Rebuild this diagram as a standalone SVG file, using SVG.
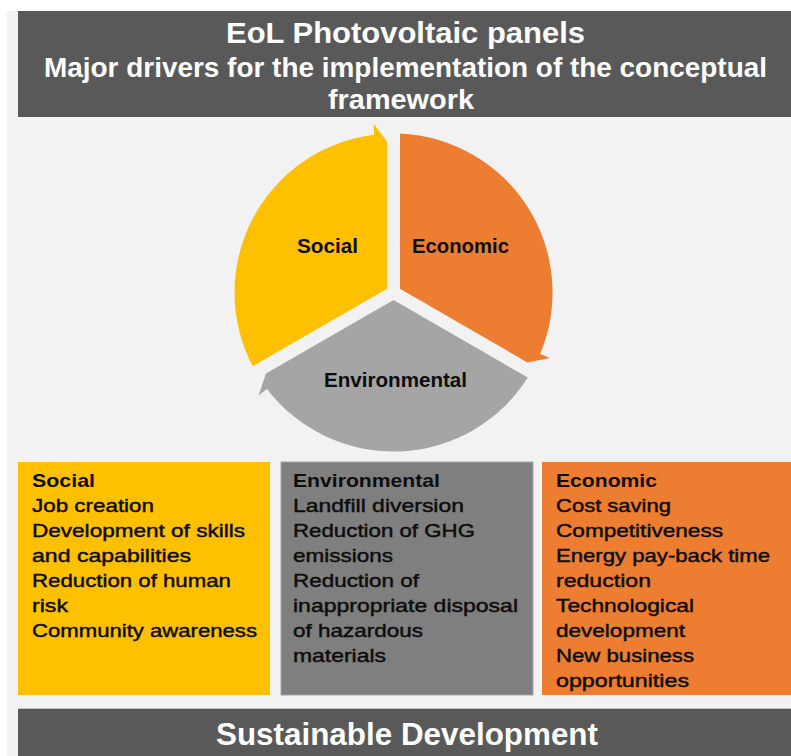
<svg xmlns="http://www.w3.org/2000/svg" width="791" height="756" viewBox="0 0 791 756">
<style>
.hdr{fill:#595959}
.ht{font-family:"Liberation Sans",Arial,sans-serif;font-weight:bold;fill:#ffffff;text-anchor:middle}
.lbl{font-family:"Liberation Sans",Arial,sans-serif;font-weight:bold;font-size:20px;fill:#0d0d0d;text-anchor:middle}
.bt{font-family:"Liberation Sans",Arial,sans-serif;font-size:19px;fill:#0d0d0d;stroke:#0d0d0d;stroke-width:0.45}
.bh{font-family:"Liberation Sans",Arial,sans-serif;font-size:19px;font-weight:bold;fill:#0d0d0d}
</style>
<rect x="0" y="0" width="791" height="756" fill="#ffffff"/>
<rect x="7" y="11" width="784" height="745" fill="#f2f2f2"/>
<g id="header">
<rect class="hdr" x="18" y="11" width="773" height="106"/>
<text class="ht" x="405.5" y="43" font-size="30" textLength="359" lengthAdjust="spacingAndGlyphs">EoL Photovoltaic panels</text>
<text class="ht" x="405.5" y="77" font-size="28" textLength="723" lengthAdjust="spacingAndGlyphs">Major drivers for the implementation of the conceptual</text>
<text class="ht" x="401" y="109" font-size="28" textLength="146" lengthAdjust="spacingAndGlyphs">framework</text>
</g>
<g id="cycle">
<g id="seg-social">
<path d="M387,288.75 L252.7,366.3 A159,159 0 0 1 374.1,134.7 L373.7,124.1 L387,141.5 Z" fill="#ffc000"/>
<text class="lbl" x="327.5" y="253" textLength="61" lengthAdjust="spacingAndGlyphs">Social</text>
</g>
<g id="seg-economic">
<path d="M400,288.75 L400,133.6 A159,159 0 0 1 540.2,353.9 L549.9,357.9 L527.5,362.4 Z" fill="#ed7d31"/>
<text class="lbl" x="460.5" y="253" textLength="97" lengthAdjust="spacingAndGlyphs">Economic</text>
</g>
<g id="seg-environmental">
<path d="M393.5,300 L527.8,377.6 A159,159 0 0 1 267,388.9 L258.7,395.2 L266,373.6 Z" fill="#a5a5a5"/>
<text class="lbl" x="395.5" y="387" textLength="143" lengthAdjust="spacingAndGlyphs">Environmental</text>
</g>
</g>
<g id="box-social">
<rect x="18" y="462" width="252" height="233" fill="#ffc000"/>
<text class="bh" x="32" y="487" textLength="63" lengthAdjust="spacingAndGlyphs">Social</text>
<text class="bt" x="32" y="512" textLength="122" lengthAdjust="spacingAndGlyphs">Job creation</text>
<text class="bt" x="32" y="537" textLength="213" lengthAdjust="spacingAndGlyphs">Development of skills</text>
<text class="bt" x="32" y="562" textLength="159" lengthAdjust="spacingAndGlyphs">and capabilities</text>
<text class="bt" x="32" y="587" textLength="199" lengthAdjust="spacingAndGlyphs">Reduction of human</text>
<text class="bt" x="32" y="612" textLength="36" lengthAdjust="spacingAndGlyphs">risk</text>
<text class="bt" x="32" y="637" textLength="225" lengthAdjust="spacingAndGlyphs">Community awareness</text>
</g>
<g id="box-environmental">
<rect x="281" y="462" width="252" height="233" fill="#7f7f7f" stroke="#a6a6a6" stroke-width="1"/>
<text class="bh" x="293" y="487" textLength="147" lengthAdjust="spacingAndGlyphs">Environmental</text>
<text class="bt" x="293" y="512" textLength="171" lengthAdjust="spacingAndGlyphs">Landfill diversion</text>
<text class="bt" x="293" y="537" textLength="182" lengthAdjust="spacingAndGlyphs">Reduction of GHG</text>
<text class="bt" x="293" y="562" textLength="100" lengthAdjust="spacingAndGlyphs">emissions</text>
<text class="bt" x="293" y="587" textLength="126" lengthAdjust="spacingAndGlyphs">Reduction of</text>
<text class="bt" x="293" y="612" textLength="225" lengthAdjust="spacingAndGlyphs">inappropriate disposal</text>
<text class="bt" x="293" y="637" textLength="130" lengthAdjust="spacingAndGlyphs">of hazardous</text>
<text class="bt" x="293" y="662" textLength="93" lengthAdjust="spacingAndGlyphs">materials</text>
</g>
<g id="box-economic">
<rect x="542" y="462" width="249" height="233" fill="#ed7d31"/>
<text class="bh" x="556" y="487" textLength="101" lengthAdjust="spacingAndGlyphs">Economic</text>
<text class="bt" x="556" y="512" textLength="115" lengthAdjust="spacingAndGlyphs">Cost saving</text>
<text class="bt" x="556" y="537" textLength="167" lengthAdjust="spacingAndGlyphs">Competitiveness</text>
<text class="bt" x="556" y="562" textLength="214" lengthAdjust="spacingAndGlyphs">Energy pay-back time</text>
<text class="bt" x="556" y="587" textLength="95" lengthAdjust="spacingAndGlyphs">reduction</text>
<text class="bt" x="556" y="612" textLength="138" lengthAdjust="spacingAndGlyphs">Technological</text>
<text class="bt" x="556" y="637" textLength="129" lengthAdjust="spacingAndGlyphs">development</text>
<text class="bt" x="556" y="662" textLength="138" lengthAdjust="spacingAndGlyphs">New business</text>
<text class="bt" x="556" y="687" textLength="133" lengthAdjust="spacingAndGlyphs">opportunities</text>
</g>
<g id="footer">
<rect class="hdr" x="18" y="708" width="773" height="48"/>
<line x1="18" y1="708.5" x2="791" y2="708.5" stroke="#bfbfbf" stroke-width="1"/>
<text class="ht" x="407" y="745" font-size="31" textLength="382" lengthAdjust="spacingAndGlyphs">Sustainable Development</text>
</g>
<g id="connectors"/>
</svg>
